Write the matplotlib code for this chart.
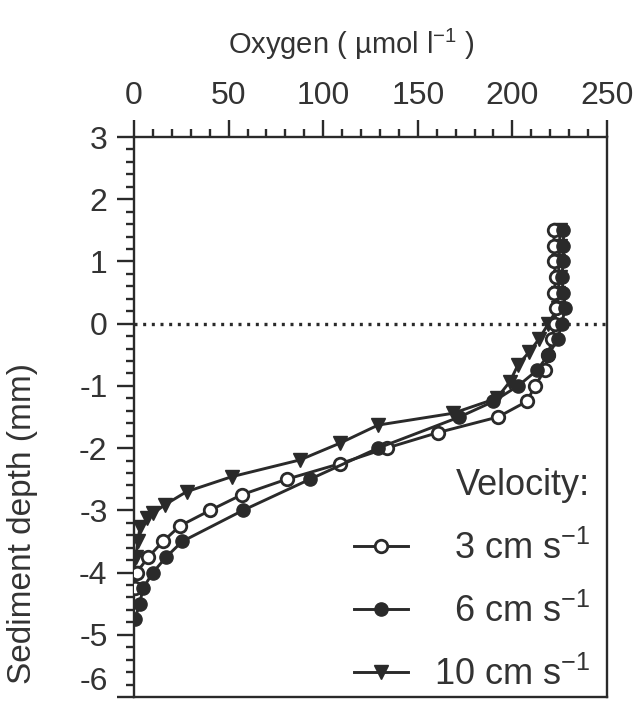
import numpy as np
import matplotlib
matplotlib.use('Agg')
import matplotlib.pyplot as plt
from matplotlib.lines import Line2D

plt.rcParams['font.family'] = ['Liberation Sans', 'DejaVu Sans']
plt.rcParams['mathtext.fontset'] = 'custom'
plt.rcParams['mathtext.rm'] = 'Liberation Sans'
plt.rcParams['mathtext.it'] = 'Liberation Sans:italic'

# 3 cm s-1 (open circles)
depth_3 = [1.5, 1.25, 1.0, 0.75, 0.5, 0.25, 0.0, -0.25, -0.5, -0.75, -1.0, -1.25, -1.5,
           -1.75, -2.0, -2.25, -2.5, -2.75, -3.0, -3.25, -3.5, -3.75, -4.0, -4.25]
oxy_3 = [222, 222, 222, 223, 222, 223, 222.5, 220.8, 219, 217, 212, 207.6, 192.4,
         160.7, 133.5, 108.9, 80.7, 56.9, 40.2, 24.3, 15.3, 7.6, 1.4, 0.5]

# 6 cm s-1 (filled circles)
depth_6 = [1.5, 1.25, 1.0, 0.75, 0.5, 0.25, 0.0, -0.25, -0.5, -0.75, -1.0, -1.25, -1.5,
           -2.0, -2.5, -3.0, -3.5, -3.75, -4.0, -4.25, -4.5, -4.75]
oxy_6 = [227, 227, 227, 226, 227, 228, 226, 224, 219, 213, 203, 190, 172,
         129, 93, 57.6, 25.5, 17, 10, 4.8, 3, 0.5]

# 10 cm s-1 (triangles)
depth_10 = [1.5, 1.25, 1.0, 0.75, 0.5, 0.25, 0.0, -0.25, -0.45, -0.66, -0.93, -1.2, -1.44,
            -1.63, -1.92, -2.19, -2.46, -2.70, -2.91, -3.05, -3.13, -3.27, -3.5, -3.75, -4.0]
oxy_10 = [225, 225, 224, 225, 224, 224, 219, 214, 209, 203, 198.7, 191.7, 168.6,
          129, 108.9, 87.7, 51.6, 27.8, 16.4, 10, 6.7, 3.2, 2, 1, 0]

labels = ['  3 cm s$^{-1}$', '  6 cm s$^{-1}$', '10 cm s$^{-1}$']
yticklabels = ['-6', '-5', '-4', '-3', '-2', '-1', '0', '1', '2', '3']

col = '#2a2a2a'
tcol = '#333333'

fig = plt.figure(figsize=(6.36, 7.01), dpi=100)
ax = fig.add_axes([134/636, 1 - 697/701, 473/636, 560/701])

ax.axhline(0, color=col, lw=2.4, dashes=(0.9, 1.7), dash_capstyle='butt', zorder=1)

l10, = ax.plot(oxy_10, depth_10, '-', color=col, lw=2.1, marker='v', ms=10.5,
               mfc=col, mec=col, zorder=3)
l3, = ax.plot(oxy_3, depth_3, '-', color=col, lw=2.1, marker='o', ms=9,
              mfc='white', mec=col, mew=2.0, zorder=4)
l6, = ax.plot(oxy_6, depth_6, '-', color=col, lw=2.1, marker='o', ms=9.5,
              mfc=col, mec=col, zorder=5)

ax.set_xlim(0, 250)
ax.set_ylim(-6, 3)

ax.xaxis.tick_top()
ax.set_xticks(np.arange(0, 251, 50))
ax.set_xticks(np.arange(0, 251, 10), minor=True)
ax.set_yticks(np.arange(-6, 3.1, 1))
ax.set_yticks(np.arange(-6, 3.01, 0.2), minor=True)
ax.set_yticklabels(yticklabels)

ax.tick_params(axis='both', which='major', length=12, width=1.7, color=col,
               labelsize=23, labelcolor=tcol, direction='out', pad=7)
ax.tick_params(axis='both', which='minor', length=6, width=1.7, color=col, direction='out')
ax.tick_params(axis='x', which='both', top=True, bottom=False)
ax.tick_params(axis='y', which='both', left=True, right=False)
ax.get_yticklabels()[0].set_va('bottom')

for s in ax.spines.values():
    s.set_linewidth(1.7)
    s.set_color(col)

fig.text(351/636, 1 - 44/701, 'Oxygen ( µmol l$^{-1}$ )', ha='center', va='center',
         fontsize=21, color=tcol)
fig.text(23/636, 1 - 524/701, 'Sediment depth (mm)', ha='center', va='center',
         rotation=90, fontsize=24, color=tcol)

handles = [Line2D([], [], color=col, lw=2.1, marker='o', ms=9, mfc='white', mec=col, mew=2.0),
           Line2D([], [], color=col, lw=2.1, marker='o', ms=9.5, mfc=col, mec=col),
           Line2D([], [], color=col, lw=2.1, marker='v', ms=10.5, mfc=col, mec=col)]
leg = ax.legend(handles, labels, title='Velocity:', loc='lower right',
                bbox_to_anchor=(0.964, 0.007), frameon=False, fontsize=26,
                title_fontsize=26, handlelength=1.5, handletextpad=0.7,
                labelspacing=0.75, borderpad=0, borderaxespad=0, alignment='right')
for t in leg.get_texts():
    t.set_color(tcol)
leg.get_title().set_color(tcol)

fig.savefig('out.png', dpi=100)
